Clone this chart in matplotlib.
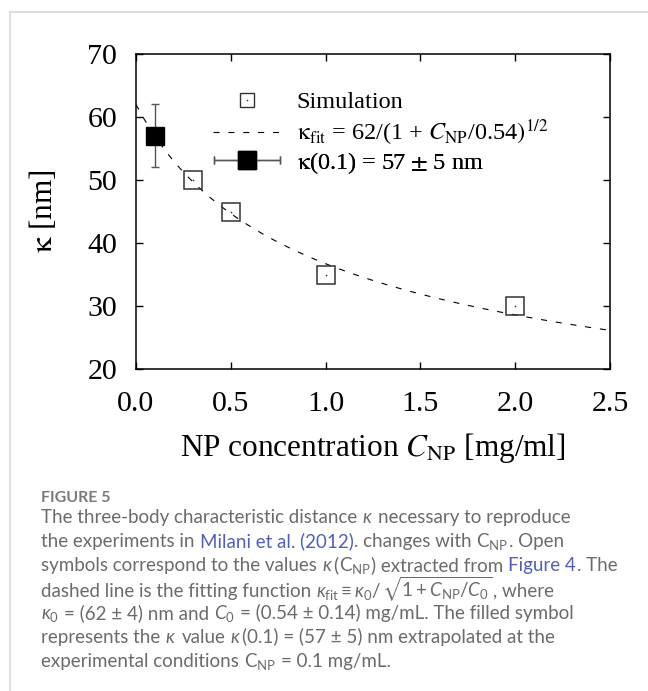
import re
import matplotlib
matplotlib.use("Agg")
import matplotlib.pyplot as plt
import numpy as np
from matplotlib.lines import Line2D
from matplotlib.container import ErrorbarContainer
from matplotlib.legend_handler import HandlerErrorbar, HandlerTuple

# ---------------- data ----------------
sim_conc = [0.3, 0.5, 1.0, 2.0]
sim_kappa = [50, 45, 35, 30]
exp_conc = [0.1]
exp_kappa = [57]
exp_err = [5]
fit_kappa0 = 62.0
fit_c0 = 0.54
x_ticks = [0.0, 0.5, 1.0, 1.5, 2.0, 2.5]
x_tick_labels = ["0.0", "0.5", "1.0", "1.5", "2.0", "2.5"]
y_ticks = [20, 30, 40, 50, 60, 70]
y_tick_labels = ["20", "30", "40", "50", "60", "70"]
legend_labels = [
    "Simulation",
    r"$\mathrm{\kappa}_{\mathrm{fit}}$ = 62/(1 + $C_{\mathrm{NP}}$/0.54$)^{1/2}$",
    r"$\mathrm{\kappa}$(0.1) = 57 $\pm$ 5 nm",
]
x_label = r"NP concentration $C_{\mathrm{NP}}$ [mg/ml]"
y_label = r"$\mathrm{\kappa}$ [nm]"
fig_label = "FIGURE 5"
caption_lines = [
    [("The three-body characteristic distance $\\kappa$ necessary to reproduce", False)],
    [("the experiments in ", False), ("Milani et al. (2012)", True),
     (". changes with $\\mathrm{C}_{\\mathrm{NP}}$. Open", False)],
    [("symbols correspond to the values $\\kappa$($\\mathrm{C}_{\\mathrm{NP}}$) extracted from ", False),
     ("Figure 4", True), (". The", False)],
    [("dashed line is the fitting function $\\kappa_{\\mathrm{fit}}\\equiv\\kappa_0/$$\\sqrt{1+C_{\\mathrm{NP}}/C_0}$, where", False)],
    [("$\\kappa_0$ = (62 ± 4) nm and $C_0$ = (0.54 ± 0.14) mg/mL. The filled symbol", False)],
    [("represents the $\\kappa$ value $\\kappa$(0.1) = (57 ± 5) nm extrapolated at the", False)],
    [("experimental conditions $\\mathrm{C}_{\\mathrm{NP}}$ = 0.1 mg/mL.", False)],
]

fit_conc = np.linspace(0.0, 2.5, 300)
fit_kappa = fit_kappa0 / np.sqrt(1.0 + fit_conc / fit_c0)

# ---------------- style ----------------
plt.rcParams["mathtext.fontset"] = "stix"
plt.rcParams["mathtext.rm"] = "Lato"
plt.rcParams["mathtext.it"] = "Lato:italic"
plt.rcParams["mathtext.bf"] = "Lato:bold"
plt.rcParams["mathtext.sf"] = "Lato"
plt.rcParams["mathtext.fallback"] = "stixsans"
SERIF = ["Liberation Serif", "DejaVu Serif"]
W, H = 648, 691
fig = plt.figure(figsize=(W / 100, H / 100), dpi=100)
fig.patch.set_facecolor("white")

# card border
fig.add_artist(Line2D([9.5 / W, 1.0], [1 - 12 / H, 1 - 12 / H], transform=fig.transFigure,
                      color="#d8d8d8", lw=1.2))
fig.add_artist(Line2D([9.5 / W, 9.5 / W], [1 - 12 / H, 0.0], transform=fig.transFigure,
                      color="#d8d8d8", lw=1.2))

ax = fig.add_axes([136 / W, 1 - 369 / H, 474 / W, 315 / H])
ax.set_xlim(0, 2.5)
ax.set_ylim(20, 70)

fit_line, = ax.plot(fit_conc, fit_kappa, color="black", lw=0.8,
                    linestyle=(0, (5.4, 8.0)), zorder=2)
sim_sq, = ax.plot(sim_conc, sim_kappa, ls="none", marker="s", ms=13, mfc="none",
                  mec="#333333", mew=1.1, zorder=3)
sim_dot, = ax.plot(sim_conc, sim_kappa, ls="none", marker="o", ms=1.2, mfc="#333333",
                   mec="none", zorder=3)
eb = ax.errorbar(exp_conc, exp_kappa, yerr=exp_err, fmt="s", color="black", ms=13,
                 ecolor="#555555", elinewidth=1.0, capsize=3, capthick=1.0, zorder=4)

ax.set_xticks(x_ticks)
ax.set_xticklabels(x_tick_labels, fontfamily=SERIF)
ax.set_yticks(y_ticks)
ax.set_yticklabels(y_tick_labels, fontfamily=SERIF)
ax.tick_params(direction="in", length=5, width=1.0, top=True, right=True,
               labelsize=21.5, colors="black")
ax.tick_params(axis="x", pad=16)
ax.tick_params(axis="y", pad=13.5)
for s in ax.spines.values():
    s.set_linewidth(1.1)

ax.set_xlabel(x_label, fontsize=22.5, fontfamily=SERIF, labelpad=10)
ax.set_ylabel(y_label, fontsize=22.5, fontfamily=SERIF)
ax.yaxis.set_label_coords(-0.162, 0.5)

# legend (gnuplot-like, one row each)
leg_sq = Line2D([], [], ls="none", marker="s", ms=9.5, mfc="none", mec="#333333", mew=1.0)
leg_dot = Line2D([], [], ls="none", marker="o", ms=1.2, mfc="#333333", mec="none")
proxy_eb = ErrorbarContainer(eb.lines, has_xerr=True, has_yerr=False)
handles = [(leg_sq, leg_dot), fit_line, proxy_eb]
rows_y = [102, 133, 163]
for h, lab, yy in zip(handles, legend_labels, rows_y):
    leg = ax.legend([h], [lab], loc="center left",
                    bbox_to_anchor=(213 / W, 1 - yy / H), bbox_transform=fig.transFigure,
                    frameon=False, borderpad=0, borderaxespad=0, handlelength=2.8,
                    handletextpad=0.65, numpoints=1,
                    prop={"family": SERIF, "size": 17.5},
                    handler_map={ErrorbarContainer: HandlerErrorbar(xerr_size=1.35),
                                 tuple: HandlerTuple(ndivide=1)})
    ax.add_artist(leg)

# caption
renderer = fig.canvas.get_renderer()
CAP_FAM = ["Lato", "DejaVu Sans"]
cap_color = "#6b6b6b"
link_color = "#5260b4"
x0 = 41
fig.text(x0 / W, 1 - 502.5 / H, fig_label, fontsize=11.5, fontweight="bold",
         family=CAP_FAM, color="#7a7a7a", va="baseline")

base_fs = 13.0
probe = fig.text(0, 0, caption_lines[0][0][0], fontsize=base_fs, family=CAP_FAM,
                 math_fontfamily="custom")
wprobe = probe.get_window_extent(renderer).width
probe.remove()
cap_fs = base_fs * 529.0 / wprobe

sp1 = fig.text(0, 0, "x x", fontsize=cap_fs, family=CAP_FAM)
sp2 = fig.text(0, 0, "xx", fontsize=cap_fs, family=CAP_FAM)
space_w = sp1.get_window_extent(renderer).width - sp2.get_window_extent(renderer).width
sp1.remove(); sp2.remove()

baselines = [523, 547, 571, 596.5, 619.5, 643, 667]
for segs, yb in zip(caption_lines, baselines):
    x = x0
    for txt, link in segs:
        for piece in re.split(r"(\$[^$]*\$)", txt):
            if piece == "":
                continue
            lead = len(piece) - len(piece.lstrip(" "))
            trail = len(piece) - len(piece.rstrip(" "))
            core = piece.strip(" ")
            x += lead * space_w
            if core:
                t = fig.text(x / W, 1 - yb / H, core, fontsize=cap_fs, family=CAP_FAM,
                             color=link_color if link else cap_color, va="baseline",
                             math_fontfamily="custom")
                x += t.get_window_extent(renderer).width + 0.3
            if trail and core:
                x += trail * space_w

fig.savefig("out.png", dpi=100, facecolor="white")
